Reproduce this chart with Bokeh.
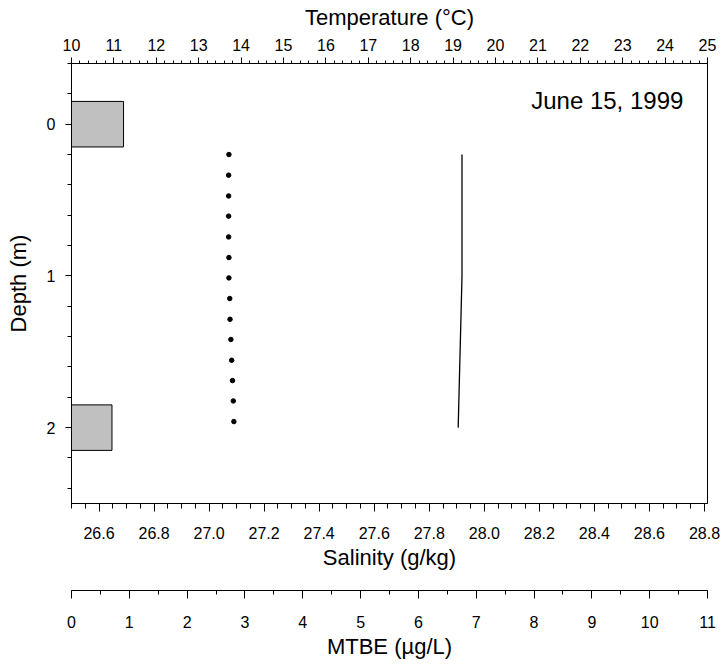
from bokeh.plotting import figure
from bokeh.models import (Range1d, LinearAxis, SingleIntervalTicker, NumeralTickFormatter,
                          Label, ColumnDataSource)
from bokeh.layouts import column
from bokeh.embed import file_html
from bokeh.resources import INLINE

# ---- data ----
sal_depth = [0.200, 0.336, 0.473, 0.606, 0.743, 0.879, 1.013, 1.149, 1.286, 1.419, 1.556, 1.690, 1.824, 1.960]
salinity = [27.072, 27.071, 27.071, 27.071, 27.071, 27.072, 27.072, 27.075, 27.076, 27.079, 27.082, 27.085, 27.088, 27.090]
temp_depth = [0.2, 1.0, 2.0]
temperature = [19.21, 19.21, 19.12]
mtbe_depth = [0.0, 2.0]
mtbe = [0.9, 0.7]
date_text = "June 15, 1999"

FONT = "Liberation Sans"
TICK = "16px"
TITLE = "22px"

def style_axis(ax, label, tick_out, minor_out, standoff, label_standoff):
    ax.axis_label = label
    ax.axis_label_text_font = FONT
    ax.axis_label_text_font_size = TITLE
    ax.axis_label_text_font_style = "normal"
    ax.axis_label_text_color = "black"
    ax.axis_label_standoff = label_standoff
    ax.major_label_text_font = FONT
    ax.major_label_text_font_size = TICK
    ax.major_label_text_color = "black"
    ax.major_label_standoff = standoff
    ax.axis_line_color = "black"
    ax.major_tick_line_color = "black"
    ax.minor_tick_line_color = "black"
    ax.major_tick_in = 0
    ax.minor_tick_in = 0
    ax.major_tick_out = tick_out
    ax.minor_tick_out = minor_out

p = figure(frame_width=636, frame_height=440,
           x_range=Range1d(26.5, 28.811), y_range=Range1d(2.5, -0.4),
           output_backend="svg", toolbar_location=None,
           min_border_left=71, min_border_right=15, min_border_top=63, min_border_bottom=0,
           x_axis_location="below", y_axis_location="left")
p.extra_x_ranges = {"temp": Range1d(10, 25), "mtbe": Range1d(0, 11)}
p.grid.visible = False
p.outline_line_color = "black"
p.outline_line_width = 1
p.background_fill_color = "white"
p.border_fill_color = "white"

# salinity axis (bottom)
xa = p.xaxis[0]
xa.ticker = SingleIntervalTicker(interval=0.2, num_minor_ticks=4)
xa.formatter = NumeralTickFormatter(format="0.0")
style_axis(xa, "Salinity (g/kg)", 8, 5, 15, 3)

# depth axis (left)
ya = p.yaxis[0]
ya.ticker = SingleIntervalTicker(interval=1, num_minor_ticks=5)
style_axis(ya, "Depth (m)", 6, 4, 10, 13)

# temperature axis (top)
ta = LinearAxis(x_range_name="temp")
ta.ticker = SingleIntervalTicker(interval=1, num_minor_ticks=5)
style_axis(ta, "Temperature (°C)", 6, 3, 7, 6)
p.add_layout(ta, "above")

# MTBE bars
bars = ColumnDataSource(dict(y=mtbe_depth, right=mtbe))
p.hbar(y="y", left=0, right="right", height=0.3, source=bars, x_range_name="mtbe",
       fill_color="#c0c0c0", line_color="black", line_width=1)

# salinity dots
p.scatter(salinity, sal_depth, size=4.5, color="black")

# temperature line
p.line(temperature, temp_depth, x_range_name="temp", line_color="black", line_width=1.3)

p.add_layout(Label(x=24.43, y=-0.158, x_range_name="temp", text=date_text,
                   text_align="right", text_baseline="alphabetic",
                   text_font=FONT, text_font_size="24px", text_color="black"))

# MTBE axis in a separate strip
p2 = figure(frame_width=636, frame_height=1,
            x_range=Range1d(0, 11), y_range=Range1d(0, 1),
            output_backend="svg", toolbar_location=None,
            min_border_left=71, min_border_right=15, min_border_top=17, min_border_bottom=0,
            y_axis_location=None)
p2.grid.visible = False
p2.outline_line_color = None
ma = p2.xaxis[0]
ma.ticker = SingleIntervalTicker(interval=1, num_minor_ticks=2)
style_axis(ma, "MTBE (µg/L)", 8, 4, 17, 3)

layout = column(p, p2, spacing=0)
open("out.html", "w").write(file_html(layout, INLINE))
